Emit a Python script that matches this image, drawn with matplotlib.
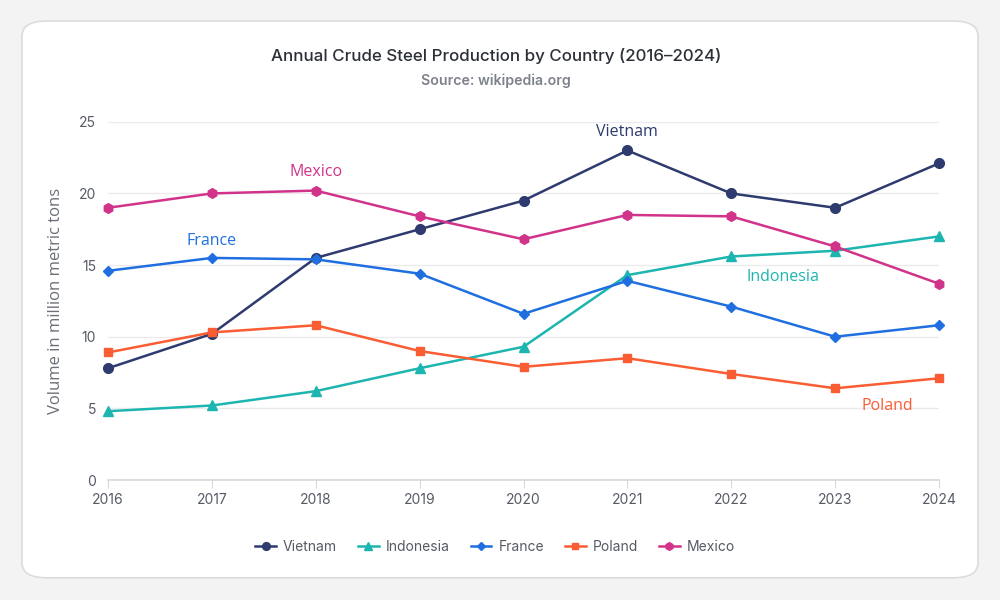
import matplotlib
matplotlib.use("Agg")
import matplotlib.pyplot as plt
from matplotlib.patches import FancyBboxPatch

plt.rcParams['font.family'] = ['Inter', 'DejaVu Sans']

years = [2016, 2017, 2018, 2019, 2020, 2021, 2022, 2023, 2024]
vietnam = [7.8, 10.2, 15.5, 17.5, 19.5, 23.0, 20.0, 19.0, 22.1]
indonesia = [4.8, 5.2, 6.2, 7.8, 9.3, 14.3, 15.6, 16.0, 17.0]
france = [14.6, 15.5, 15.4, 14.4, 11.6, 13.9, 12.1, 10.0, 10.8]
poland = [8.9, 10.3, 10.8, 9.0, 7.9, 8.5, 7.4, 6.4, 7.1]
mexico = [19.0, 20.0, 20.2, 18.4, 16.8, 18.5, 18.4, 16.3, 13.7]

series = [
    ("Vietnam", vietnam, "#2f3b6e", "o", 7),
    ("Indonesia", indonesia, "#1db5b0", "^", 7),
    ("France", france, "#1f6fe0", "D", 5.5),
    ("Poland", poland, "#fa5d33", "s", 6),
    ("Mexico", mexico, "#d2338a", "h", 7),
]

# label name, x, y (data coords)
labels = [
    ("Vietnam", 2021, 24.3),
    ("Mexico", 2018, 21.5),
    ("France", 2017, 16.7),
    ("Indonesia", 2022.5, 14.2),
    ("Poland", 2023.5, 5.15),
]

fig = plt.figure(figsize=(10, 6), dpi=100)
fig.patch.set_facecolor("#f3f3f4")
card = FancyBboxPatch((0.022, 0.037), 0.956, 0.928,
                      boxstyle="round,pad=0,rounding_size=0.025",
                      transform=fig.transFigure, facecolor="white",
                      edgecolor="#dcdcdf", linewidth=1.2, zorder=-10)
fig.patches.append(card)

ax = fig.add_axes([0.108, 0.2, 0.831, 0.597])
ax.set_facecolor("none")

colors = {}
for name, vals, col, mk, ms in series:
    ax.plot(years, vals, color=col, marker=mk, markersize=ms, linewidth=1.8,
            label=name, clip_on=False, zorder=3)
    colors[name] = col

for name, x, y in labels:
    ax.text(x, y, name, color=colors[name], fontsize=11.5, ha="center",
            va="center", family=["Open Sans", "DejaVu Sans"])

ax.set_xlim(2016, 2024)
ax.set_ylim(0, 25)
ax.set_xticks(years)
ax.set_yticks([0, 5, 10, 15, 20, 25])
ax.grid(axis="y", color="#ebebee", linewidth=1)
ax.set_axisbelow(True)
for s in ["top", "right", "left"]:
    ax.spines[s].set_visible(False)
ax.spines["bottom"].set_color("#d8d8dc")
ax.spines["bottom"].set_linewidth(1.2)
ax.tick_params(axis="x", colors="#d8d8dc", labelcolor="#555a64", labelsize=10,
               length=6, pad=3)
ax.tick_params(axis="y", length=0, labelcolor="#555a64", labelsize=10, pad=8.5)
ax.set_ylabel("Volume in million metric tons", fontsize=12, color="#6b6f78",
              labelpad=11, family=["Open Sans", "DejaVu Sans"])

fig.text(0.496, 0.907, "Annual Crude Steel Production by Country (2016\u20132024)",
         ha="center", va="center", fontsize=12.2, color="#2b2f36",
         fontweight="medium")
fig.text(0.496, 0.865, "Source: wikipedia.org", ha="center", va="center",
         fontsize=10.2, color="#7d818a", fontweight="semibold")

leg = fig.legend(loc="center", bbox_to_anchor=(0.495, 0.088), ncol=5,
                 frameon=False, fontsize=10, handlelength=1.5,
                 columnspacing=1.5, handletextpad=0.5, markerscale=0.8)
for t in leg.get_texts():
    t.set_color("#555a64")

fig.savefig("out.png", dpi=100, facecolor=fig.get_facecolor())
